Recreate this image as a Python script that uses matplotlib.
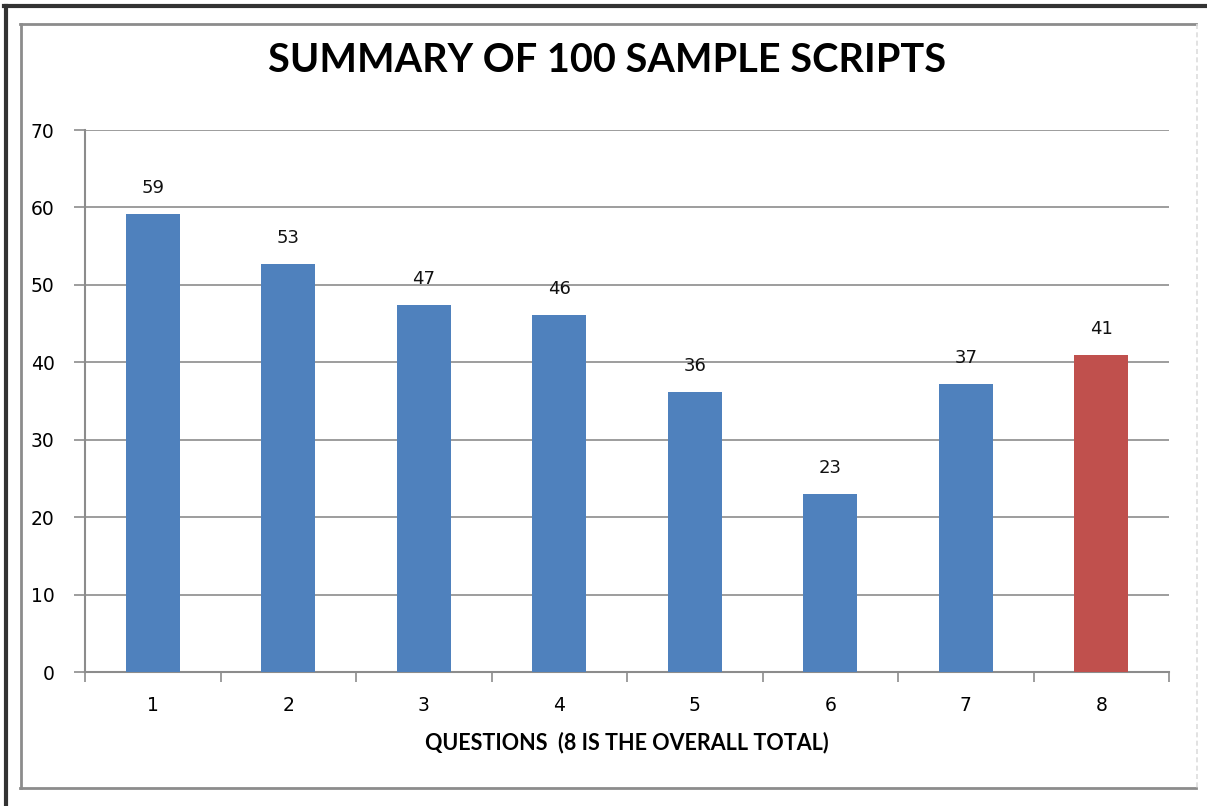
import matplotlib
matplotlib.use("Agg")
import matplotlib.pyplot as plt
from matplotlib.lines import Line2D

questions = ["1", "2", "3", "4", "5", "6", "7", "8"]
values = [59.1, 52.7, 47.4, 46.1, 36.2, 23.0, 37.2, 40.9]
labels = ["59", "53", "47", "46", "36", "23", "37", "41"]
colors = ["#4F81BD"] * 7 + ["#C0504D"]
yticks = [0, 10, 20, 30, 40, 50, 60, 70]

W, H = 1207, 806
fig = plt.figure(figsize=(W / 100, H / 100), dpi=100)
fig.patch.set_facecolor("white")

def fx(px):
    return px / W

def fy(py):
    return 1 - py / H

def line(x0, y0, x1, y1, **kw):
    fig.add_artist(Line2D([fx(x0), fx(x1)], [fy(y0), fy(y1)],
                          transform=fig.transFigure, **kw))

# outer border (dark, left and top only)
line(5.5, 6, 5.5, 806, color="#333333", lw=3)
line(4, 6, 1207, 6, color="#333333", lw=3)
# inner border
line(21, 24, 21, 788, color="#8C8C8C", lw=2)
line(20, 24, 1196, 24, color="#8C8C8C", lw=2)
line(20, 788, 1196, 788, color="#8C8C8C", lw=2)
line(1197, 24, 1197, 788, color="#DDDDDD", lw=1.2, ls=(0, (3, 2)))

ax = fig.add_axes([fx(85), fy(672), (1169 - 85) / W, (672 - 130) / H])
x = list(range(len(questions)))
ax.bar(x, values, width=0.4, color=colors, zorder=3)
for xi, v, lab in zip(x, values, labels):
    ax.text(xi, v + 2.2, lab, ha="center", va="bottom", fontsize=13,
            family="DejaVu Sans", color="#111111")

ax.set_xlim(-0.5, len(questions) - 0.5)
ax.set_ylim(0, 70)
ax.set_yticks(yticks)
ax.set_yticklabels([str(t) for t in yticks], fontsize=13.5, family="DejaVu Sans")
ax.yaxis.grid(True, color="#8C8C8C", lw=1.2, zorder=0)
ax.set_axisbelow(True)

ax.set_xticks(x)
ax.set_xticklabels(questions, fontsize=13.5, family="DejaVu Sans")
ax.set_xticks([i - 0.5 for i in range(len(questions) + 1)], minor=True)
ax.tick_params(axis="x", which="major", length=0, pad=17)
ax.tick_params(axis="x", which="minor", length=7, width=1.2, color="#8C8C8C", direction="out")
ax.tick_params(axis="y", which="major", length=8, width=1.2, color="#8C8C8C", pad=14)

for s in ["top", "right"]:
    ax.spines[s].set_visible(False)
for s in ["left", "bottom"]:
    ax.spines[s].set_color("#8C8C8C")
    ax.spines[s].set_linewidth(1.5)

ax.set_xlabel("QUESTIONS  (8 IS THE OVERALL TOTAL)", fontsize=15.5, fontweight="bold",
              family="Lato", labelpad=12)
fig.text(fx(607), fy(60), "SUMMARY OF 100 SAMPLE SCRIPTS", ha="center", va="center",
         fontsize=28.5, fontweight="bold", family="Lato")

fig.savefig("out.png", dpi=100)
